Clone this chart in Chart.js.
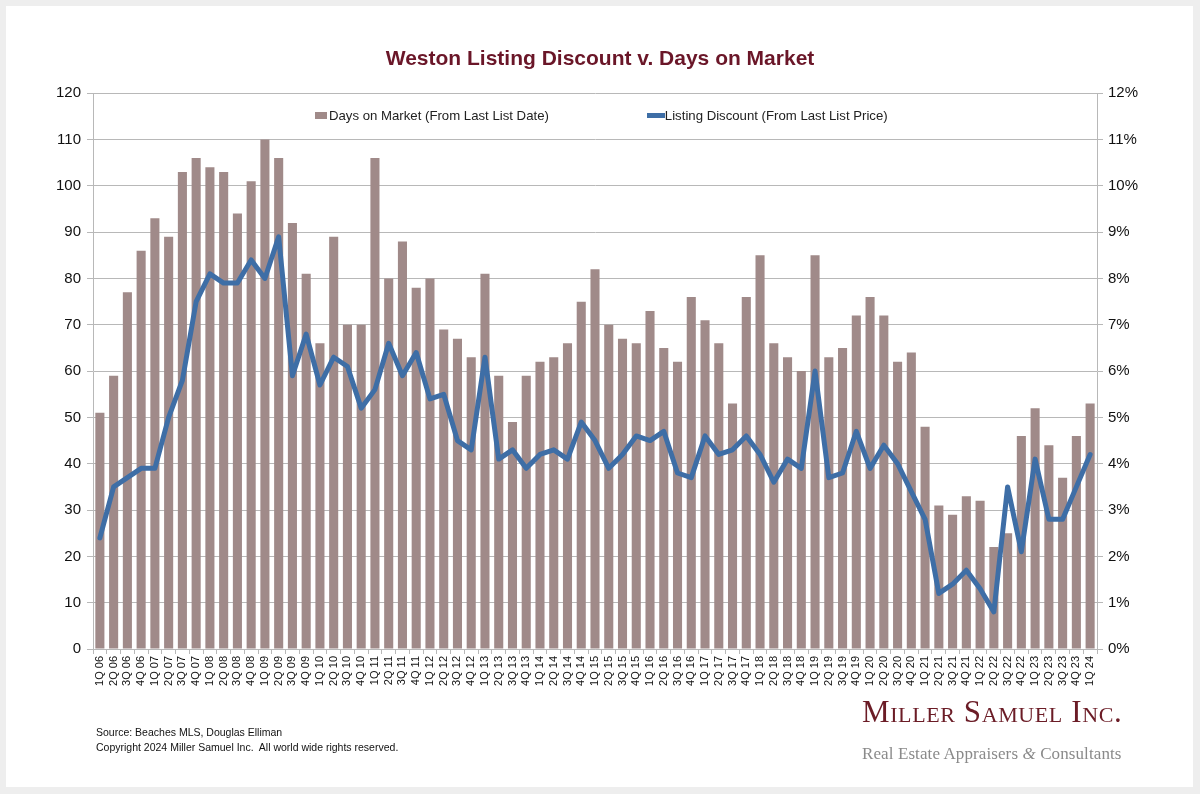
<!DOCTYPE html>
<html lang="en">
<head>
<meta charset="UTF-8">
<title>Weston Listing Discount v. Days on Market</title>
<script src="https://cdn.jsdelivr.net/npm/chart.js"></script>
<style>
    html, body { margin: 0; padding: 0; background: #eeeeee; }
    body { width: 1200px; height: 794px; position: relative; overflow: hidden; font-family: "Liberation Sans", Arial, sans-serif; }
    .panel { position: absolute; left: 6px; top: 6px; width: 1187px; height: 781px; background: #fff; }
    #wrap { position: absolute; left: 0; top: 0; width: 1200px; height: 794px; }
    .legend { position: absolute; top: 108px; left: 315px; display: flex; align-items: center; font-size: 13.2px; color: #222; }
    .legend .item { display: flex; align-items: center; }
    .legend .box { width: 12px; height: 7px; margin-right: 2px; }
    .legend .ln { width: 18px; height: 5px; margin-right: 0; }
    .footer { position: absolute; left: 96px; top: 725px; font-size: 10.5px; line-height: 15px; color: #111; }
    .logo { position: absolute; left: 862px; top: 696px; font-family: "Liberation Serif", "DejaVu Serif", serif; }
    .logo .name { font-size: 31px; font-variant: small-caps; color: #6b1c26; letter-spacing: 0.6px; line-height: 32px; }
    .logo .sub { font-size: 17px; color: #8a8a8a; line-height: 22px; margin-top: 15px; letter-spacing: 0.1px; }
</style>
</head>
<body>
<div class="panel"></div>
<div id="wrap"><canvas id="chart" width="1200" height="794"></canvas></div>
<div class="legend" id="legend"></div>
<div class="footer">Source: Beaches MLS, Douglas Elliman<br>Copyright 2024 Miller Samuel Inc.&nbsp; All world wide rights reserved.</div>
<div class="logo">
    <div class="name">Miller Samuel Inc.</div>
    <div class="sub">Real Estate Appraisers <i>&amp;</i> Consultants</div>
</div>

<script>
    const quarters = [
        "1Q 06","2Q 06","3Q 06","4Q 06","1Q 07","2Q 07","3Q 07","4Q 07",
        "1Q 08","2Q 08","3Q 08","4Q 08","1Q 09","2Q 09","3Q 09","4Q 09",
        "1Q 10","2Q 10","3Q 10","4Q 10","1Q 11","2Q 11","3Q 11","4Q 11",
        "1Q 12","2Q 12","3Q 12","4Q 12","1Q 13","2Q 13","3Q 13","4Q 13",
        "1Q 14","2Q 14","3Q 14","4Q 14","1Q 15","2Q 15","3Q 15","4Q 15",
        "1Q 16","2Q 16","3Q 16","4Q 16","1Q 17","2Q 17","3Q 17","4Q 17",
        "1Q 18","2Q 18","3Q 18","4Q 18","1Q 19","2Q 19","3Q 19","4Q 19",
        "1Q 20","2Q 20","3Q 20","4Q 20","1Q 21","2Q 21","3Q 21","4Q 21",
        "1Q 22","2Q 22","3Q 22","4Q 22","1Q 23","2Q 23","3Q 23","4Q 23",
        "1Q 24"
    ];

    // days on market (from last list date)
    const daysOnMarket = [
        51, 59, 77, 86, 93, 89, 103, 106,
        104, 103, 94, 101, 110, 106, 92, 81,
        66, 89, 70, 70, 106, 80, 88, 78,
        80, 69, 67, 63, 81, 59, 49, 59,
        62, 63, 66, 75, 82, 70, 67, 66,
        73, 65, 62, 76, 71, 66, 53, 76,
        85, 66, 63, 60, 85, 63, 65, 72,
        76, 72, 62, 64, 48, 31, 29, 33,
        32, 22, 25, 46, 52, 44, 37, 46,
        53
    ];

    // listing discount (from last list price), in percent
    const listingDiscount = [
        2.4, 3.5, 3.7, 3.9, 3.9, 5.0, 5.8, 7.5,
        8.1, 7.9, 7.9, 8.4, 8.0, 8.9, 5.9, 6.8,
        5.7, 6.3, 6.1, 5.2, 5.6, 6.6, 5.9, 6.4,
        5.4, 5.5, 4.5, 4.3, 6.3, 4.1, 4.3, 3.9,
        4.2, 4.3, 4.1, 4.9, 4.5, 3.9, 4.2, 4.6,
        4.5, 4.7, 3.8, 3.7, 4.6, 4.2, 4.3, 4.6,
        4.2, 3.6, 4.1, 3.9, 6.0, 3.7, 3.8, 4.7,
        3.9, 4.4, 4.0, 3.4, 2.8, 1.2, 1.4, 1.7,
        1.3, 0.8, 3.5, 2.1, 4.1, 2.8, 2.8, 3.5,
        4.2
    ];

    const leftTicks = [0, 120, 10];
    const rightTicks = [0, 12, 1];

    const barColor = '#a08a89';
    const lineColor = '#3e6ea6';
    const gridColor = '#b8b8b8';
    const fontFamily = '"Liberation Sans", Arial, sans-serif';

    const ctx = document.getElementById('chart').getContext('2d');
    const chart = new Chart(ctx, {
        type: 'bar',
        data: {
            labels: quarters,
            datasets: [
                {
                    type: 'bar',
                    label: 'Days on Market (From Last List Date)',
                    data: daysOnMarket,
                    backgroundColor: barColor,
                    yAxisID: 'y',
                    categoryPercentage: 1.0,
                    barPercentage: 0.66,
                    order: 2
                },
                {
                    type: 'line',
                    label: 'Listing Discount (From Last List Price)',
                    data: listingDiscount,
                    borderColor: lineColor,
                    borderWidth: 5,
                    pointRadius: 0,
                    tension: 0,
                    borderJoinStyle: 'round',
                    borderCapStyle: 'round',
                    fill: false,
                    yAxisID: 'y1',
                    order: 1
                }
            ]
        },
        options: {
            responsive: false,
            animation: false,
            layout: { padding: { left: 0, right: 0, top: 0, bottom: 0 } },
            plugins: {
                legend: { display: false },
                tooltip: { enabled: false },
                title: {
                    display: true,
                    text: 'Weston Listing Discount v. Days on Market',
                    color: '#6a1628',
                    font: { family: fontFamily, size: 21, weight: 'bold', lineHeight: 1.2 },
                    padding: { top: 47, bottom: 21 }
                }
            },
            scales: {
                x: {
                    offset: true,
                    grid: { drawOnChartArea: false, offset: true, tickLength: 5, color: gridColor },
                    border: { color: gridColor },
                    ticks: {
                        autoSkip: false, maxRotation: 90, minRotation: 90,
                        color: '#111', padding: 2,
                        font: { family: fontFamily, size: 11 }
                    },
                    afterFit: function(scale) { scale.height = 145; }
                },
                y: {
                    position: 'left',
                    min: leftTicks[0], max: leftTicks[1],
                    grid: { color: gridColor, tickLength: 6 },
                    border: { color: gridColor },
                    ticks: {
                        stepSize: leftTicks[2], color: '#111', padding: 6,
                        font: { family: fontFamily, size: 15 }
                    },
                    afterFit: function(scale) { scale.width = 93; }
                },
                y1: {
                    position: 'right',
                    min: rightTicks[0], max: rightTicks[1],
                    grid: { drawOnChartArea: false, color: gridColor, tickLength: 6 },
                    border: { color: gridColor },
                    ticks: {
                        stepSize: rightTicks[2], color: '#111', padding: 5,
                        font: { family: fontFamily, size: 15 },
                        callback: function(v) { return v + '%'; }
                    },
                    afterFit: function(scale) { scale.width = 103; }
                }
            }
        }
    });

    // legend built from the chart's datasets
    const legendEl = document.getElementById('legend');
    chart.data.datasets.forEach(function(ds, i) {
        const item = document.createElement('div');
        item.className = 'item';
        if (i > 0) item.style.marginLeft = '98px';
        const sw = document.createElement('span');
        if (ds.type === 'line') {
            sw.className = 'ln';
            sw.style.background = ds.borderColor;
        } else {
            sw.className = 'box';
            sw.style.background = ds.backgroundColor;
        }
        const txt = document.createElement('span');
        txt.textContent = ds.label;
        item.appendChild(sw);
        item.appendChild(txt);
        legendEl.appendChild(item);
    });
</script>
</body>
</html>
